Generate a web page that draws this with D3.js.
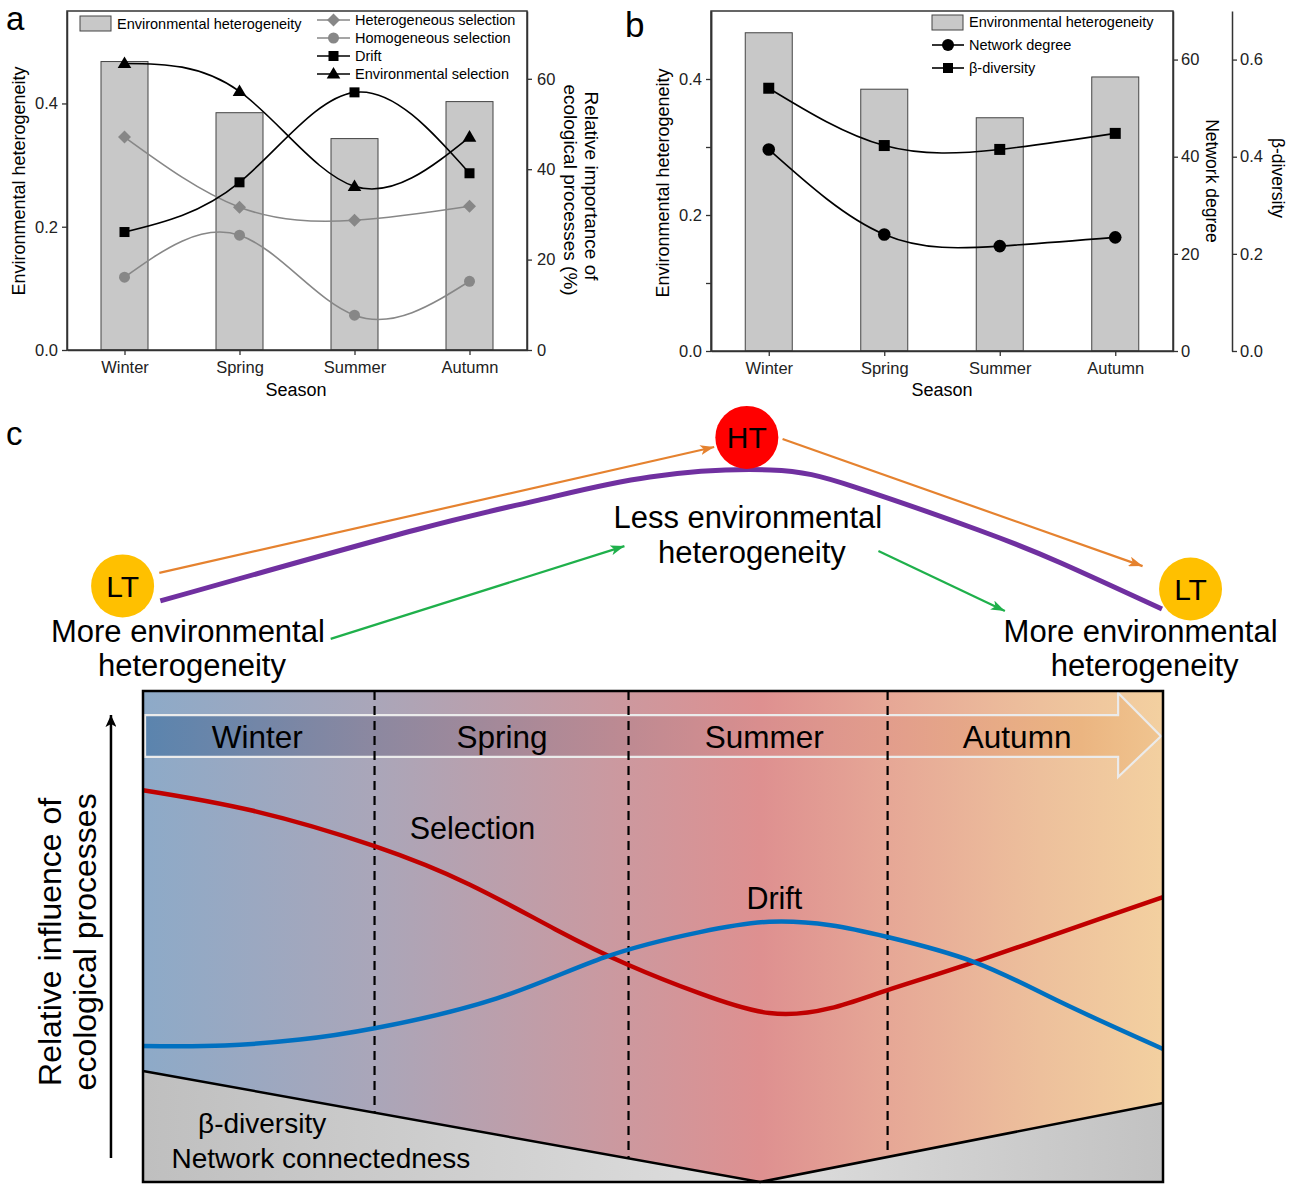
<!DOCTYPE html>
<html><head><meta charset="utf-8">
<script src="https://cdn.jsdelivr.net/npm/d3@7"></script>
<style>
body{margin:0;background:#fff;}
svg{display:block;font-family:"Liberation Sans",Arial,Helvetica,sans-serif;}
</style>
</head><body>
<svg id="chart" width="1294" height="1184"></svg>
<script>
// ---------------- DATA ----------------
const seasons = ["Winter", "Spring", "Summer", "Autumn"];
// panel a & b bars (environmental heterogeneity)
const envHet = [0.468, 0.385, 0.343, 0.403];
// panel a lines (relative importance, %)
const hetSel = [47.1, 31.6, 28.7, 31.8];
const homSel = [16.1, 25.4, 7.7, 15.2];
const driftA = [26.1, 37.1, 57.0, 39.1];
const envSel = [63.4, 57.2, 36.2, 47.1];
// panel b lines
const netDegree = [41.5, 24.0, 21.6, 23.4];
const betaDiv = [0.541, 0.423, 0.415, 0.448];
// ticks
const ticksHet = [0, 0.2, 0.4];
const ticksHetMinor = [0.1, 0.3];
const ticksPct = [0, 20, 40, 60];
const ticksNet = [0, 20, 40, 60];
const ticksBeta = [0, 0.2, 0.4, 0.6];

// panel c schematic (units 0-100)
const cSelection = [[0,79.8],[10.8,75.6],[22.7,68.4],[32,60.6],[40.4,51.5],[47.6,44.2],[54.6,38.4],[61.4,34.4],[67.4,35.4],[73.0,39.1],[81.5,44.8],[93.8,53.6],[100,58.0]];
const cDrift = [[0,27.7],[8,27.8],[15.4,29.0],[22.7,31.3],[34.7,37.4],[45.3,45.8],[54.6,50.9],[61.4,53.0],[67.4,52.3],[73.0,49.9],[81.5,44.8],[89.9,36.7],[100,27.1]];
const cBaseline = [[0,22.6],[60.5,0],[100,16.1]];
const cBounds = [22.7, 47.6, 73.0];
const cSeasonX = [11.2, 35.2, 60.9, 85.7];
const cTrajectory = [[1.7,30.4],[26.7,57.7],[38.8,69.2],[49.7,78.1],[61.5,80.8],[69.8,74.2],[81.9,57.7],[90.0,45.0],[99.9,27.3]];
const cNodes = [
  {label:"LT", x:-2.0, y:36.2, color:"#FFC000"},
  {label:"HT", x:59.2, y:93.3, color:"#FF0000"},
  {label:"LT", x:102.7, y:35.0, color:"#FFC000"}
];
const cOrange = [[[1.6,41.2],[56.0,89.6]], [[62.7,92.7],[98.0,43.8]]];
const cGreen = [[[18.4,15.8],[47.2,51.5]], [[72.1,49.6],[84.5,26.5]]];
const cTopLabels = [
  {lines:["More environmental","heterogeneity"], x:[4.4,4.8], y:[14.6,1.5]},
  {lines:["Less environmental","heterogeneity"], x:[59.3,59.7], y:[58.5,45.0]},
  {lines:["More environmental","heterogeneity"], x:[97.8,98.2], y:[14.6,1.5]}
];

// ---------------- SETUP ----------------
const svg = d3.select("#chart");
const FS_TICK = 16.5, FS_TITLE = 18, FS_LEG = 14.5;

function axisStyle(g){
  g.selectAll("text").attr("font-size", FS_TICK).attr("fill","#222");
  g.selectAll("line").attr("stroke","#333").attr("stroke-width",1.3);
  g.select(".domain").attr("stroke","#333").attr("stroke-width",1.5);
}
const diamond = "M0,-6.5L6.5,0L0,6.5L-6.5,0Z";
const triangle = "M0,-7L6.8,4.6L-6.8,4.6Z";
function drawMarker(g, type, x, y, color, s){
  if(type==="diamond") g.append("path").attr("d",diamond).attr("transform",`translate(${x},${y})`).attr("fill",color);
  else if(type==="circle") g.append("circle").attr("cx",x).attr("cy",y).attr("r",s||5.5).attr("fill",color);
  else if(type==="square"){ const h=(s||10)/2; g.append("rect").attr("x",x-h).attr("y",y-h).attr("width",2*h).attr("height",2*h).attr("fill",color);}
  else if(type==="triangle") g.append("path").attr("d",triangle).attr("transform",`translate(${x},${y})`).attr("fill",color);
}

// ---------------- PANEL A ----------------
const aB = {l:67, t:11, r:527, b:350};
const xa = d3.scalePoint().domain(seasons).range([aB.l, aB.r]).padding(0.5);
const yaL = d3.scaleLinear().domain([0, 0.55]).range([aB.b, aB.t]);
const yaR = d3.scaleLinear().domain([0, 75]).range([aB.b, aB.t]);
const ga = svg.append("g");
const bw = 47;
ga.selectAll("rect.bar").data(seasons).join("rect")
  .attr("x", d => xa(d) - bw/2).attr("y", (d,i) => yaL(envHet[i]))
  .attr("width", bw).attr("height", (d,i) => yaL(0) - yaL(envHet[i]))
  .attr("fill","#c8c8c8").attr("stroke","#444").attr("stroke-width",1);

const lineA = d3.line().x((d,i)=>xa(seasons[i])).y(d=>yaR(d)).curve(d3.curveNatural);
const seriesA = [
  {v:hetSel, color:"#878787", m:"diamond", name:"Heterogeneous selection"},
  {v:homSel, color:"#878787", m:"circle", name:"Homogeneous selection"},
  {v:driftA, color:"#000", m:"square", name:"Drift"},
  {v:envSel, color:"#000", m:"triangle", name:"Environmental selection"}
];
seriesA.forEach(s=>{
  ga.append("path").attr("d", lineA(s.v)).attr("fill","none").attr("stroke",s.color).attr("stroke-width",1.6);
  s.v.forEach((v,i)=>drawMarker(ga, s.m, xa(seasons[i]), yaR(v), s.color));
});

ga.append("g").attr("transform",`translate(${aB.l},0)`)
  .call(d3.axisLeft(yaL).tickValues(ticksHet).tickFormat(d3.format(".1f")).tickSize(5).tickPadding(4).tickSizeOuter(0)).call(axisStyle);
ga.append("g").attr("transform",`translate(${aB.r},0)`)
  .call(d3.axisRight(yaR).tickValues(ticksPct).tickSize(5).tickPadding(5).tickSizeOuter(0)).call(axisStyle);
ga.append("g").attr("transform",`translate(0,${aB.b})`)
  .call(d3.axisBottom(xa).tickSize(5).tickPadding(6).tickSizeOuter(0)).call(axisStyle);
ga.append("rect").attr("x",aB.l).attr("y",aB.t).attr("width",aB.r-aB.l).attr("height",aB.b-aB.t)
  .attr("fill","none").attr("stroke","#333").attr("stroke-width",1.5);

// legend a
ga.append("rect").attr("x",80).attr("y",16).attr("width",31).attr("height",15).attr("fill","#c8c8c8").attr("stroke","#444");
ga.append("text").attr("x",117).attr("y",29).attr("font-size",FS_LEG).text("Environmental heterogeneity");
seriesA.forEach((s,i)=>{
  const y = 20 + i*18;
  ga.append("line").attr("x1",317).attr("x2",350).attr("y1",y).attr("y2",y).attr("stroke",s.color).attr("stroke-width",1.6);
  drawMarker(ga, s.m, 333.5, y, s.color);
  ga.append("text").attr("x",355).attr("y",y+5).attr("font-size",FS_LEG).text(s.name);
});
// titles a
ga.append("text").attr("transform","translate(25,181) rotate(-90)").attr("text-anchor","middle").attr("font-size",FS_TITLE).text("Environmental heterogeneity");
ga.append("text").attr("transform","translate(585,186) rotate(90)").attr("text-anchor","middle").attr("font-size",19).text("Relative importance of");
ga.append("text").attr("transform","translate(564,190) rotate(90)").attr("text-anchor","middle").attr("font-size",19).text("ecological processes (%)");
ga.append("text").attr("x",296).attr("y",396).attr("text-anchor","middle").attr("font-size",FS_TITLE).text("Season");
svg.append("text").attr("x",6).attr("y",30).attr("font-size",33).text("a");

// ---------------- PANEL B ----------------
const bB = {l:711, t:11, r:1173, b:351, r2:1232};
const xb = d3.scalePoint().domain(seasons).range([bB.l, bB.r]).padding(0.5);
const ybL = d3.scaleLinear().domain([0, 0.5]).range([bB.b, bB.t]);
const ybN = d3.scaleLinear().domain([0, 70]).range([bB.b, bB.t]);
const ybB = d3.scaleLinear().domain([0, 0.7]).range([bB.b, bB.t]);
const gb = svg.append("g");
gb.selectAll("rect.bar").data(seasons).join("rect")
  .attr("x", d => xb(d) - bw/2).attr("y", (d,i) => ybL(envHet[i]))
  .attr("width", bw).attr("height", (d,i) => ybL(0) - ybL(envHet[i]))
  .attr("fill","#c8c8c8").attr("stroke","#444").attr("stroke-width",1);
const lineN = d3.line().x((d,i)=>xb(seasons[i])).y(d=>ybN(d)).curve(d3.curveNatural);
const lineB = d3.line().x((d,i)=>xb(seasons[i])).y(d=>ybB(d)).curve(d3.curveNatural);
gb.append("path").attr("d",lineN(netDegree)).attr("fill","none").attr("stroke","#000").attr("stroke-width",1.6);
gb.append("path").attr("d",lineB(betaDiv)).attr("fill","none").attr("stroke","#000").attr("stroke-width",1.6);
netDegree.forEach((v,i)=>drawMarker(gb,"circle",xb(seasons[i]),ybN(v),"#000",6.3));
betaDiv.forEach((v,i)=>drawMarker(gb,"square",xb(seasons[i]),ybB(v),"#000",11));

gb.append("g").attr("transform",`translate(${bB.l},0)`)
  .call(d3.axisLeft(ybL).tickValues(ticksHet).tickFormat(d3.format(".1f")).tickSize(5).tickPadding(4).tickSizeOuter(0)).call(axisStyle);
gb.append("g").attr("transform",`translate(${bB.l},0)`)
  .call(d3.axisLeft(ybL).tickValues(ticksHetMinor).tickFormat("").tickSize(5).tickSizeOuter(0)).call(axisStyle);
gb.append("g").attr("transform",`translate(${bB.r},0)`)
  .call(d3.axisRight(ybN).tickValues(ticksNet).tickSize(5).tickPadding(3).tickSizeOuter(0)).call(axisStyle);
gb.append("g").attr("transform",`translate(${bB.r2},0)`)
  .call(d3.axisRight(ybB).tickValues(ticksBeta).tickFormat(d3.format(".1f")).tickSize(5).tickPadding(3).tickSizeOuter(0)).call(axisStyle);
gb.append("g").attr("transform",`translate(0,${bB.b})`)
  .call(d3.axisBottom(xb).tickSize(5).tickPadding(6).tickSizeOuter(0)).call(axisStyle);
gb.append("rect").attr("x",bB.l).attr("y",bB.t).attr("width",bB.r-bB.l).attr("height",bB.b-bB.t)
  .attr("fill","none").attr("stroke","#333").attr("stroke-width",1.5);
// legend b
gb.append("rect").attr("x",932).attr("y",15).attr("width",31).attr("height",15).attr("fill","#c8c8c8").attr("stroke","#444");
gb.append("text").attr("x",969).attr("y",27).attr("font-size",FS_LEG).text("Environmental heterogeneity");
[["circle","Network degree",45],["square","β-diversity",68]].forEach(([m,name,y])=>{
  gb.append("line").attr("x1",932).attr("x2",964).attr("y1",y).attr("y2",y).attr("stroke","#000").attr("stroke-width",1.6);
  drawMarker(gb,m,948,y,"#000",m==="circle"?6:10);
  gb.append("text").attr("x",969).attr("y",y+5).attr("font-size",FS_LEG).text(name);
});
gb.append("text").attr("transform","translate(669,183) rotate(-90)").attr("text-anchor","middle").attr("font-size",FS_TITLE).text("Environmental heterogeneity");
gb.append("text").attr("transform","translate(1206,181) rotate(90)").attr("text-anchor","middle").attr("font-size",17.5).text("Network degree");
gb.append("text").attr("transform","translate(1272,178) rotate(90)").attr("text-anchor","middle").attr("font-size",17.5).text("β-diversity");
gb.append("text").attr("x",942).attr("y",396).attr("text-anchor","middle").attr("font-size",FS_TITLE).text("Season");
svg.append("text").attr("x",625).attr("y",37).attr("font-size",35).text("b");

// ---------------- PANEL C ----------------
const xC = d3.scaleLinear().domain([0,100]).range([143,1163]);
const yC = d3.scaleLinear().domain([0,100]).range([1182,691]);
const yT = d3.scaleLinear().domain([0,100]).range([680,420]);
const defs = svg.append("defs");
function grad(id, stops){
  const g = defs.append("linearGradient").attr("id",id).attr("gradientUnits","userSpaceOnUse")
    .attr("x1",xC(0)).attr("x2",xC(100)).attr("y1",0).attr("y2",0);
  stops.forEach(([o,c])=>g.append("stop").attr("offset",o).attr("stop-color",c));
}
grad("bgGrad",[[0,"#8DAAC8"],[0.227,"#AAA6B9"],[0.476,"#CD989E"],[0.605,"#DE9090"],[0.73,"#E6A796"],[0.88,"#EDC09C"],[1,"#F3D0A0"]]);
grad("bandGrad",[[0,"#5A84AE"],[0.227,"#8C88A0"],[0.476,"#BE8A92"],[0.605,"#D98E8E"],[0.73,"#E29D8C"],[0.92,"#EBB581"],[1,"#F0C590"]]);
grad("grayGrad",[[0,"#BFBFBF"],[0.6,"#DEDEDE"],[1,"#C2C2C2"]]);

function arrowMarker(id,color,len,wid){
  defs.append("marker").attr("id",id).attr("markerUnits","userSpaceOnUse")
    .attr("viewBox",`0 0 ${len} ${wid}`).attr("refX",len).attr("refY",wid/2)
    .attr("markerWidth",len).attr("markerHeight",wid).attr("orient","auto")
    .append("path").attr("d",`M0,0L${len},${wid/2}L0,${wid}L${len*0.25},${wid/2}Z`).attr("fill",color);
}
arrowMarker("arO","#E5822F",14,10);
arrowMarker("arG","#1FB04B",14,10);
arrowMarker("arK","#000",12,11);

const gc = svg.append("g");
// background box
gc.append("rect").attr("x",xC(0)).attr("y",yC(100)).attr("width",xC(100)-xC(0)).attr("height",yC(0)-yC(100)).attr("fill","url(#bgGrad)");
// season arrow band
const band = [[0.2,95.1],[95.6,95.1],[95.6,99.6],[99.8,90.8],[95.6,82.5],[95.6,86.6],[0.2,86.6]];
gc.append("path").attr("d", d3.line().x(d=>xC(d[0])).y(d=>yC(d[1]))(band)+"Z")
  .attr("fill","url(#bandGrad)").attr("stroke","#EBEBEB").attr("stroke-width",2.2);
// gray region
const baseArea = d3.area().x(d=>xC(d[0])).y0(yC(0)).y1(d=>yC(d[1]));
gc.append("path").attr("d",baseArea(cBaseline)).attr("fill","url(#grayGrad)");
gc.append("path").attr("d",d3.line().x(d=>xC(d[0])).y(d=>yC(d[1]))(cBaseline)).attr("fill","none").attr("stroke","#000").attr("stroke-width",2.5);
// dashed bounds
const baseAt = d3.scaleLinear().domain(cBaseline.map(d=>d[0])).range(cBaseline.map(d=>d[1]));
cBounds.forEach(b=>{
  gc.append("line").attr("x1",xC(b)).attr("x2",xC(b)).attr("y1",yC(100)).attr("y2",yC(baseAt(b)))
    .attr("stroke","#000").attr("stroke-width",2.2).attr("stroke-dasharray","9,6");
});
// season labels
seasons.forEach((s,i)=>gc.append("text").attr("x",xC(cSeasonX[i])).attr("y",yC(90.8)).attr("dy","0.36em")
  .attr("text-anchor","middle").attr("font-size",31.5).text(s));
// curves
const lineC = d3.line().x(d=>xC(d[0])).y(d=>yC(d[1])).curve(d3.curveNatural);
gc.append("path").attr("d",lineC(cSelection)).attr("fill","none").attr("stroke","#C00000").attr("stroke-width",4.5);
gc.append("path").attr("d",lineC(cDrift)).attr("fill","none").attr("stroke","#0070C0").attr("stroke-width",4.5);
gc.append("text").attr("x",xC(32.3)).attr("y",yC(72.1)).attr("dy","0.36em").attr("text-anchor","middle").attr("font-size",30.5).text("Selection");
gc.append("text").attr("x",xC(61.9)).attr("y",yC(57.8)).attr("dy","0.36em").attr("text-anchor","middle").attr("font-size",30.5).text("Drift");
gc.append("text").attr("x",xC(5.4)).attr("y",yC(12.0)).attr("dy","0.36em").attr("font-size",28).text("β-diversity");
gc.append("text").attr("x",xC(2.8)).attr("y",yC(4.9)).attr("dy","0.36em").attr("font-size",28).text("Network connectedness");
// frame
gc.append("rect").attr("x",xC(0)).attr("y",yC(100)).attr("width",xC(100)-xC(0)).attr("height",yC(0)-yC(100))
  .attr("fill","none").attr("stroke","#000").attr("stroke-width",2.5);
// vertical axis arrow
gc.append("line").attr("x1",xC(-3.14)).attr("x2",xC(-3.14)).attr("y1",yC(4.9)).attr("y2",yC(95.1))
  .attr("stroke","#000").attr("stroke-width",2.5).attr("marker-end","url(#arK)");
gc.append("text").attr("transform",`translate(61,${yC(48.9)}) rotate(-90)`).attr("text-anchor","middle").attr("font-size",32).text("Relative influence of");
gc.append("text").attr("transform",`translate(96,${yC(48.9)}) rotate(-90)`).attr("text-anchor","middle").attr("font-size",32).text("ecological processes");

// top schematic
const gt = svg.append("g");
cOrange.forEach(a=>gt.append("line").attr("x1",xC(a[0][0])).attr("y1",yT(a[0][1])).attr("x2",xC(a[1][0])).attr("y2",yT(a[1][1]))
  .attr("stroke","#E5822F").attr("stroke-width",2.2).attr("marker-end","url(#arO)"));
cGreen.forEach(a=>gt.append("line").attr("x1",xC(a[0][0])).attr("y1",yT(a[0][1])).attr("x2",xC(a[1][0])).attr("y2",yT(a[1][1]))
  .attr("stroke","#1FB04B").attr("stroke-width",2.2).attr("marker-end","url(#arG)"));
gt.append("path").attr("d",d3.line().x(d=>xC(d[0])).y(d=>yT(d[1])).curve(d3.curveNatural)(cTrajectory))
  .attr("fill","none").attr("stroke","#7030A0").attr("stroke-width",5);
cNodes.forEach(n=>{
  gt.append("circle").attr("cx",xC(n.x)).attr("cy",yT(n.y)).attr("r",31.5).attr("fill",n.color);
  gt.append("text").attr("x",xC(n.x)).attr("y",yT(n.y)).attr("dy","0.36em").attr("text-anchor","middle").attr("font-size",30).text(n.label);
});
cTopLabels.forEach(l=>l.lines.forEach((t,i)=>gt.append("text").attr("x",xC(l.x[i])).attr("y",yT(l.y[i]))
  .attr("text-anchor","middle").attr("font-size",31).text(t)));
svg.append("text").attr("x",6).attr("y",445).attr("font-size",33).text("c");
</script>
</body></html>
